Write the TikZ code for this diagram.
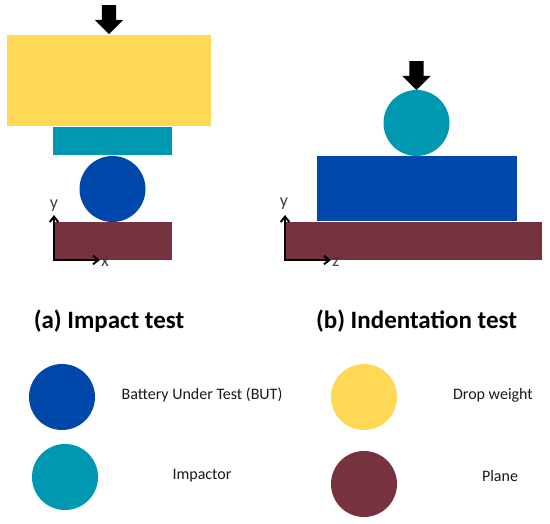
\documentclass[tikz,border=0pt]{standalone}
\usepackage{fontspec}
\setmainfont{Carlito}
\usepackage{xcolor}
\usetikzlibrary{arrows.meta,shapes.arrows}
\definecolor{dropyellow}{HTML}{FFD955}
\definecolor{impactteal}{HTML}{0098B0}
\definecolor{batteryblue}{HTML}{0047AB}
\definecolor{planered}{HTML}{773240}

\begin{document}
\begin{tikzpicture}[
    x=1pt, y=-1pt,
    block/.style={inner sep=0pt, outer sep=0pt, draw=none},
    plate/.style={block, rectangle},
    ball/.style={block, circle, minimum size=66pt},
    load/.style={block, fill=black, single arrow, shape border rotate=270, inner sep=7pt,
      minimum width=28pt, minimum height=29pt, single arrow head extend=7pt, single arrow head indent=0pt},
    axis/.style={{Straight Barb[length=1.9mm, width=3mm]}-{Straight Barb[length=1.9mm, width=3mm]}, line width=2pt, black},
    axlbl/.style={font=\fontsize{18}{18}\selectfont, text=black!75, inner sep=0pt},
    title/.style={font=\fontsize{25}{28}\selectfont\bfseries, inner sep=0pt},
    lbl/.style={font=\fontsize{16}{18}\selectfont, text=black!90, inner sep=0pt},
  ]
  \useasboundingbox (0,0) rectangle (550,524);

  % ===== LEFT: impact test =====
  \node[plate, fill=dropyellow, minimum width=204pt, minimum height=91pt] (weightA) at (109,80.5) {};
  \node[plate, fill=impactteal, minimum width=119pt, minimum height=28.5pt] (impactorA) at (112.5,141) {};
  \node[ball, fill=batteryblue] (batteryA) at (112.5,189) {};
  \node[plate, fill=planered, minimum width=118pt, minimum height=38pt] (planeA) at (113,241) {};
  \node[load] (loadA) at (109,16) {};

  % Axes
  \coordinate (originA) at (54,260);
  \node[axlbl] (yA) at (54,206) {y};
  \node[axlbl] (xA) at (105,262) {x};
  \coordinate (yendA) at (54,215);
  \coordinate (xendA) at (100,260);
  \draw[axis] (yendA) -- (originA) -- (xendA);

  % ===== RIGHT: indentation test =====
  \node[plate, fill=batteryblue, minimum width=200pt, minimum height=65.5pt] (batteryB) at (416.5,188.5) {};
  \node[plate, fill=planered, minimum width=256pt, minimum height=38pt] (planeB) at (414,241) {};
  \node[ball, fill=impactteal] (impactorB) at (416.5,123) {};
  \node[load] (loadB) at (416.5,72) {};

  % Axes
  \coordinate (originB) at (285,260);
  \node[axlbl] (yB) at (284,204) {y};
  \node[axlbl] (zB) at (336,262) {z};
  \coordinate (yendB) at (285,215);
  \coordinate (zendB) at (331,260);
  \draw[axis] (yendB) -- (originB) -- (zendB);

  % ===== Titles =====
  \node[title] (titleA) at (109,321.5) {(a) Impact test};
  \node[title] (titleB) at (416.5,321.5) {(b) Indentation test};

  % ===== Legend =====
  \node[ball, fill=batteryblue] (keyBattery) at (62,397) {};
  \node[ball, fill=impactteal] (keyImpactor) at (65,477) {};
  \node[ball, fill=dropyellow] (keyWeight) at (364,397) {};
  \node[ball, fill=planered] (keyPlane) at (364,484) {};
  \node[lbl] (txtBattery) at (202,395) {Battery Under Test (BUT)};
  \node[lbl] (txtImpactor) at (202,476) {Impactor};
  \node[lbl] (txtWeight) at (493,395) {Drop weight};
  \node[lbl] (txtPlane) at (500,476) {Plane};
\end{tikzpicture}
\end{document}
